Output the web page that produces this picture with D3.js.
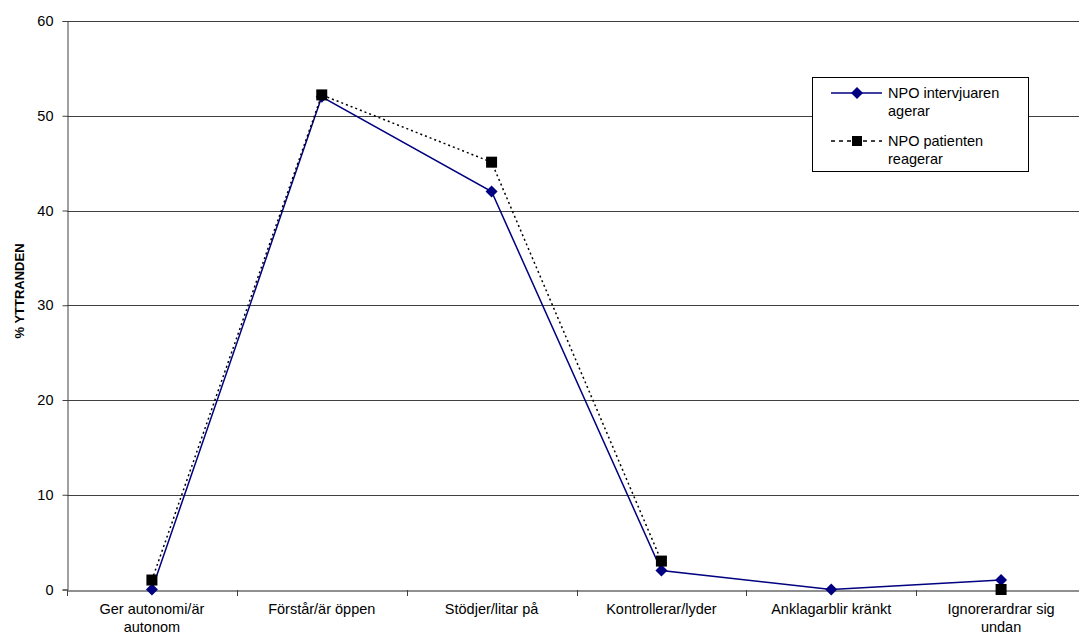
<!DOCTYPE html>
<html>
<head>
<meta charset="utf-8">
<script src="https://cdn.jsdelivr.net/npm/d3@7"></script>
<style>
  html, body { margin: 0; padding: 0; background: #fff; }
  svg { display: block; font-family: "Liberation Sans", Arial, sans-serif; }
</style>
</head>
<body>
<svg id="chart" width="1079" height="640"></svg>
<script>
// Categories (two-line labels split on "\n")
const categories = [
  "Ger autonomi/är\nautonom",
  "Förstår/är öppen",
  "Stödjer/litar på",
  "Kontrollerar/lyder",
  "Anklagarblir kränkt",
  "Ignorerardrar sig\nundan"
];
const intervjuaren = [0, 52, 42, 2, 0, 1];
const patienten = [1, 52.2, 45.1, 3, null, 0];
const yTicks = [0, 10, 20, 30, 40, 50, 60];
const seriesNames = ["NPO intervjuaren\nagerar", "NPO patienten\nreagerar"];

const FS = 14.5;
const svg = d3.select("#chart");
const plotLeft = 67, plotRight = 1086, plotTop = 21, plotBottom = 589.5;

const x = d3.scaleBand().domain(categories).range([plotLeft, plotRight]);
const y = d3.scaleLinear().domain([0, 60]).range([plotBottom, plotTop]);

// Horizontal gridlines
svg.append("g").selectAll("line").data(yTicks.filter(d => d > 0)).join("line")
  .attr("x1", plotLeft).attr("x2", plotRight)
  .attr("y1", d => Math.round(y(d)) + 0.5).attr("y2", d => Math.round(y(d)) + 0.5)
  .attr("stroke", "#404040").attr("stroke-width", 1);

// Y axis
const yAxis = svg.append("g").attr("transform", `translate(${plotLeft + 0.5},0)`)
  .call(d3.axisLeft(y).tickValues(yTicks).tickSize(5).tickPadding(9));
yAxis.select(".domain").attr("stroke", "#404040");
yAxis.selectAll(".tick line").attr("stroke", "#404040");
yAxis.selectAll(".tick text").attr("font-size", FS).attr("fill", "#000")
  .attr("font-family", "Liberation Sans, Arial, sans-serif");

// X axis
const xAxis = svg.append("g").attr("transform", `translate(0,${Math.round(plotBottom) + 0.5})`)
  .call(d3.axisBottom(x).tickSize(0).tickFormat(""));
xAxis.select(".domain").attr("stroke", "#202020");
// tick marks on category boundaries
svg.append("g").selectAll("line").data(categories).join("line")
  .attr("x1", d => Math.round(x(d)) + 0.5).attr("x2", d => Math.round(x(d)) + 0.5)
  .attr("y1", Math.round(plotBottom)).attr("y2", Math.round(plotBottom) + 6)
  .attr("stroke", "#404040");

// Category labels
const cx = d => x(d) + x.bandwidth() / 2;
svg.append("g").selectAll("text").data(categories).join("text")
  .attr("x", cx).attr("y", 614)
  .attr("text-anchor", "middle").attr("font-size", FS).attr("fill", "#000")
  .each(function(d) {
    d.split("\n").forEach((t, i) => {
      d3.select(this).append("tspan").attr("x", cx(d)).attr("dy", i === 0 ? 0 : 18).text(t);
    });
  });

// Y axis title
svg.append("text")
  .attr("transform", "translate(24,291) rotate(-90)")
  .attr("text-anchor", "middle").attr("font-size", 13).attr("font-weight", "bold")
  .text("% YTTRANDEN");

// Lines
const line = d3.line()
  .defined(d => d.v !== null)
  .x(d => cx(d.c)).y(d => y(d.v));
const s1 = categories.map((c, i) => ({ c, v: intervjuaren[i] }));
const s2 = categories.map((c, i) => ({ c, v: patienten[i] }));

svg.append("path").datum(s1).attr("d", line)
  .attr("fill", "none").attr("stroke", "#000080").attr("stroke-width", 1.5);
svg.append("path").datum(s2).attr("d", line)
  .attr("fill", "none").attr("stroke", "#000").attr("stroke-width", 1.5)
  .attr("stroke-dasharray", "2,3");

function drawDiamond(g, px, py) {
  g.append("path")
    .attr("d", `M${px},${py - 6}L${px + 6},${py}L${px},${py + 6}L${px - 6},${py}Z`)
    .attr("fill", "#000080");
}
function drawSquare(g, px, py) {
  g.append("rect").attr("x", px - 5.5).attr("y", py - 5.5)
    .attr("width", 11).attr("height", 11).attr("fill", "#000");
}
const marks = svg.append("g");
s1.forEach(d => drawDiamond(marks, cx(d.c), y(d.v)));
s2.filter(d => d.v !== null).forEach(d => drawSquare(marks, cx(d.c), y(d.v)));

// Legend
const lg = svg.append("g");
lg.append("rect").attr("x", 812.5).attr("y", 77.5).attr("width", 216).attr("height", 94)
  .attr("fill", "#fff").attr("stroke", "#000").attr("stroke-width", 1);
const legendRows = [
  { name: seriesNames[0], y: 93, color: "#000080", dash: null, diamond: true },
  { name: seriesNames[1], y: 141, color: "#000", dash: "4,4", diamond: false }
];
legendRows.forEach(r => {
  lg.append("line").attr("x1", 831).attr("x2", 882).attr("y1", r.y).attr("y2", r.y)
    .attr("stroke", r.color).attr("stroke-width", 1.5)
    .attr("stroke-dasharray", r.dash);
  if (r.diamond) drawDiamond(lg, 857, r.y);
  else lg.append("rect").attr("x", 852).attr("y", r.y - 5).attr("width", 10).attr("height", 10).attr("fill", "#000");
  const t = lg.append("text").attr("x", 888).attr("y", r.y + 5).attr("font-size", FS);
  r.name.split("\n").forEach((s, i) => {
    t.append("tspan").attr("x", 888).attr("dy", i === 0 ? 0 : 18).text(s);
  });
});
</script>
</body>
</html>
